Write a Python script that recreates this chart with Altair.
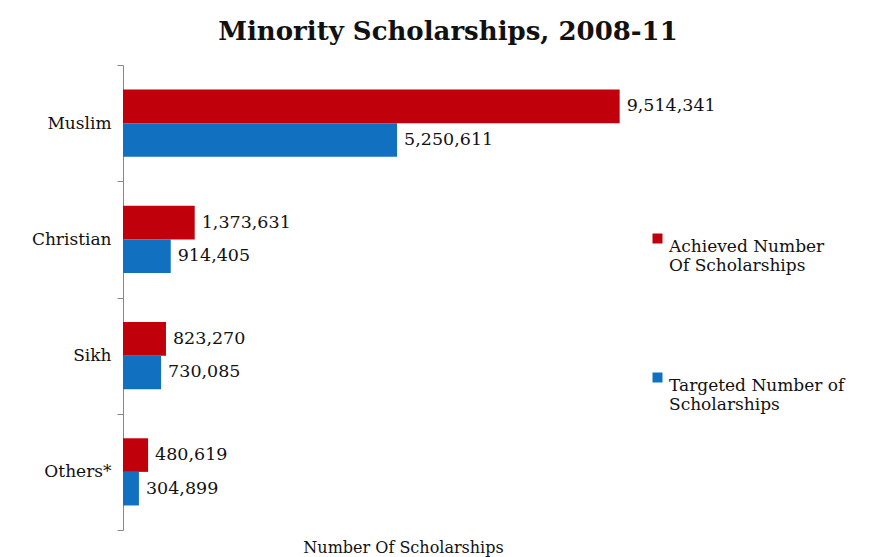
import altair as alt
import pandas as pd

categories = ["Muslim", "Christian", "Sikh", "Others*"]
achieved = [9514341, 1373631, 823270, 480619]
targeted = [5250611, 914405, 730085, 304899]
series_names = ["Achieved Number Of Scholarships", "Targeted Number of Scholarships"]
colors = ["#C0000B", "#1170C0"]

rows = []
for c, a, t in zip(categories, achieved, targeted):
    rows.append({"category": c, "series": series_names[0], "value": a})
    rows.append({"category": c, "series": series_names[1], "value": t})
df = pd.DataFrame(rows)

FONT = "DejaVu Serif"

y_enc = alt.Y("category:N", sort=categories,
              scale=alt.Scale(paddingInner=0, paddingOuter=0),
              axis=alt.Axis(title=None, tickBand="extent", domainColor="#888888",
                            tickColor="#888888", tickSize=6, labelPadding=6))
yoff = alt.YOffset("series:N", sort=series_names,
                   scale=alt.Scale(paddingInner=0, paddingOuter=0.73))
x_enc = alt.X("value:Q", scale=alt.Scale(domain=[0, 10000000], nice=False),
              axis=alt.Axis(title="Number Of Scholarships", domain=False, ticks=False,
                            labels=False, grid=False, titlePadding=9, titleX=280))

bars = alt.Chart(df).mark_bar().encode(
    x=x_enc,
    y=y_enc,
    yOffset=yoff,
    color=alt.Color("series:N", sort=series_names,
                    scale=alt.Scale(domain=series_names, range=colors),
                    legend=alt.Legend(title=None, orient="none", legendX=526, legendY=165,
                                      symbolType="square", symbolSize=100,
                                      symbolStrokeWidth=0, labelLimit=300, rowPadding=95,
                                      labelBaseline="top", labelOffset=3,
                                      labelExpr="split(datum.label, ' Of ').length > 1 ? ['Achieved Number', 'Of Scholarships'] : ['Targeted Number of', 'Scholarships']")),
)

labels = alt.Chart(df).mark_text(align="left", baseline="middle", dx=7, font=FONT,
                                  fontSize=17.5, color="#111111").encode(
    x=alt.X("value:Q"),
    y=alt.Y("category:N", sort=categories),
    yOffset=alt.YOffset("series:N", sort=series_names),
    text=alt.Text("value:Q", format=",d"),
)

chart = alt.layer(bars, labels).properties(
    width=522, height=465,
    title=alt.TitleParams("Minority Scholarships, 2008-11", font=FONT, fontSize=26,
                          fontWeight="bold", color="#111111", anchor="middle", dx=64,
                          offset=11),
    autosize=alt.AutoSizeParams(type="none"),
    padding={"left": 123, "top": 65, "right": 228, "bottom": 27},
).configure(
    background="white", font=FONT
).configure_view(
    strokeWidth=0
).configure_axis(
    labelFont=FONT, labelFontSize=17, labelColor="#111111",
    titleFont=FONT, titleFontSize=16, titleFontWeight="normal", titleColor="#111111"
).configure_legend(
    labelFont=FONT, labelFontSize=17, labelColor="#111111"
)

chart.save("out.html", embed_options={"renderer": "svg", "actions": False})
